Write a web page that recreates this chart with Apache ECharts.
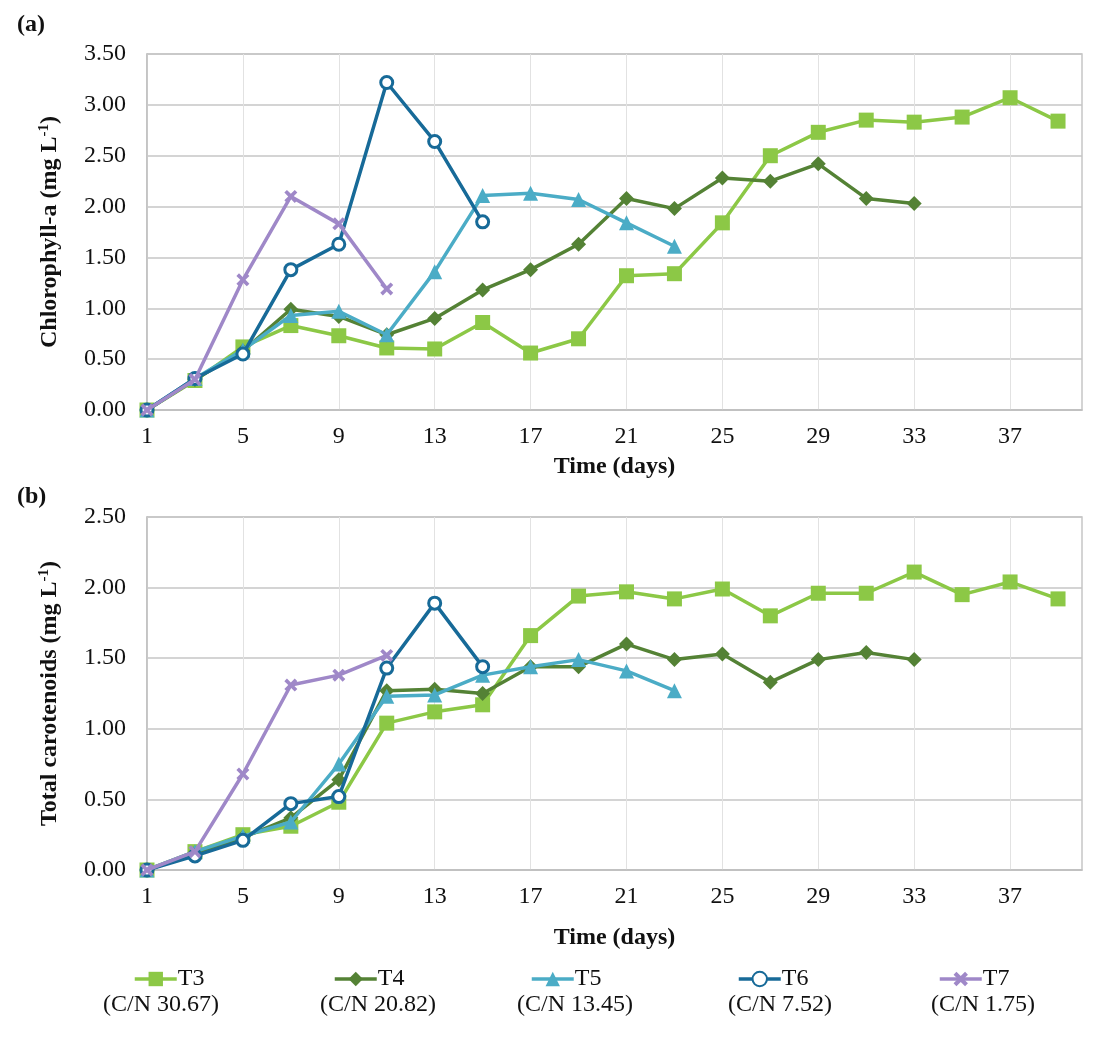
<!DOCTYPE html>
<html>
<head>
<meta charset="utf-8">
<script src="https://cdn.jsdelivr.net/npm/echarts@6/dist/echarts.min.js"></script>
<style>
  html, body { margin: 0; padding: 0; background: #fff; }
  #chart { width: 1118px; height: 1052px; }
</style>
</head>
<body>
<div id="chart"></div>
<script>
// sampling days (every other day)
var days = [1, 3, 5, 7, 9, 11, 13, 15, 17, 19, 21, 23, 25, 27, 29, 31, 33, 35, 37, 39];
// axis categories 1..40, labelled every 4th day
var dayTicks = [];
for (var d = 1; d <= 40; d++) dayTicks.push(String(d));

var names = ['T3', 'T4', 'T5', 'T6', 'T7'];
var cnRatios = ['(C/N 30.67)', '(C/N 20.82)', '(C/N 13.45)', '(C/N 7.52)', '(C/N 1.75)'];
var colors = ['#8cc846', '#548235', '#4bacc6', '#176a98', '#9f88c8'];

// (a) chlorophyll-a, mg/L
var chlT3 = [0, 0.29, 0.62, 0.83, 0.73, 0.61, 0.60, 0.86, 0.56, 0.70, 1.32, 1.34, 1.84, 2.50, 2.73, 2.85, 2.83, 2.88, 3.07, 2.84];
var chlT4 = [0, 0.30, 0.58, 0.99, 0.92, 0.74, 0.90, 1.18, 1.38, 1.63, 2.08, 1.98, 2.28, 2.25, 2.42, 2.08, 2.03];
var chlT5 = [0, 0.31, 0.59, 0.93, 0.97, 0.74, 1.36, 2.11, 2.13, 2.07, 1.84, 1.61];
var chlT6 = [0, 0.31, 0.55, 1.38, 1.63, 3.22, 2.64, 1.85];
var chlT7 = [0, 0.30, 1.28, 2.10, 1.83, 1.19];

// (b) total carotenoids, mg/L
var carT3 = [0, 0.13, 0.25, 0.31, 0.48, 1.04, 1.12, 1.17, 1.66, 1.94, 1.97, 1.92, 1.99, 1.80, 1.96, 1.96, 2.11, 1.95, 2.04, 1.92];
var carT4 = [0, 0.12, 0.23, 0.37, 0.64, 1.27, 1.28, 1.25, 1.44, 1.44, 1.60, 1.49, 1.53, 1.33, 1.49, 1.54, 1.49];
var carT5 = [0, 0.13, 0.24, 0.34, 0.75, 1.23, 1.24, 1.38, 1.44, 1.49, 1.41, 1.27];
var carT6 = [0, 0.10, 0.21, 0.47, 0.52, 1.43, 1.89, 1.44];
var carT7 = [0, 0.13, 0.68, 1.31, 1.38, 1.52];

var chlData = [chlT3, chlT4, chlT5, chlT6, chlT7];
var carData = [carT3, carT4, carT5, carT6, carT7];

var serif = 'Liberation Serif, Times New Roman, serif';
var fs = 24;
var crossPath = 'path://M2,0 L5,3 L8,0 L10,2 L7,5 L10,8 L8,10 L5,7 L2,10 L0,8 L3,5 L0,2 Z';
var symbols = ['rect', 'diamond', 'triangle', 'circle', crossPath];
var symbolSizes = [15, 15, 15, 12, 13];
var legendLefts = [133, 333, 530, 737, 938];
var cnCenters = [161, 378, 575, 780, 983];

function toPairs(vals) {
    return vals.map(function (v, i) { return [String(days[i]), v]; });
}

function makeSeries(vals, i, gridIdx) {
    var s = {
        name: names[i],
        type: 'line',
        xAxisIndex: gridIdx,
        yAxisIndex: gridIdx,
        data: toPairs(vals),
        symbol: symbols[i],
        symbolSize: symbolSizes[i],
        color: colors[i],
        lineStyle: { width: 3.5, color: colors[i] },
        itemStyle: { color: colors[i] },
        emphasis: { disabled: true },
        z: 2 + i
    };
    if (i === 3) {
        s.itemStyle = { color: '#fff', borderColor: colors[i], borderWidth: 3 };
    }
    return s;
}

function xAxisCfg(gridIdx, nameGap) {
    return {
        type: 'category',
        gridIndex: gridIdx,
        data: dayTicks,
        boundaryGap: false,
        name: 'Time (days)',
        nameLocation: 'middle',
        nameGap: nameGap,
        nameTextStyle: { fontFamily: serif, fontSize: fs, fontWeight: 'bold', color: '#111' },
        axisLine: { lineStyle: { color: '#bfbfbf', width: 1.5 } },
        axisTick: { show: false },
        axisLabel: { interval: 3, margin: 15, fontFamily: serif, fontSize: fs, color: '#111' },
        splitLine: { show: true, interval: 3, lineStyle: { color: '#e2e2e2', width: 1 } }
    };
}

function yAxisCfg(gridIdx, name, max) {
    return {
        type: 'value',
        gridIndex: gridIdx,
        min: 0,
        max: max,
        interval: 0.5,
        name: name,
        nameLocation: 'middle',
        nameGap: 84,
        nameTextStyle: {
            fontFamily: serif, fontSize: fs, fontWeight: 'bold', color: '#111',
            rich: {
                sup: { fontFamily: serif, fontSize: 15, fontWeight: 'bold', color: '#111', verticalAlign: 'bottom', padding: [0, 0, 11, 0] }
            }
        },
        axisLine: { show: true, lineStyle: { color: '#bfbfbf', width: 1.5 } },
        axisTick: { show: false },
        axisLabel: {
            margin: 21, fontFamily: serif, fontSize: fs, color: '#111',
            formatter: function (v) { return v.toFixed(2); }
        },
        splitLine: { lineStyle: { color: '#c6c6c6', width: 1.5 } }
    };
}

var series = [];
chlData.forEach(function (vals, i) { series.push(makeSeries(vals, i, 0)); });
carData.forEach(function (vals, i) { series.push(makeSeries(vals, i, 1)); });

var legends = names.map(function (n, i) {
    return {
        data: [n],
        left: legendLefts[i],
        top: 967,
        padding: 0,
        itemWidth: 42,
        itemHeight: 18,
        itemGap: 2,
        selectedMode: false,
        lineStyle: { width: 3.5 },
        textStyle: { fontFamily: serif, fontSize: fs, color: '#111', padding: [0, 0, 0, -4] }
    };
});

var graphics = [
    { type: 'text', left: 17, top: 13, style: { text: '(a)', font: 'bold ' + fs + 'px ' + serif, fill: '#111' } },
    { type: 'text', left: 17, top: 485, style: { text: '(b)', font: 'bold ' + fs + 'px ' + serif, fill: '#111' } }
];
cnRatios.forEach(function (t, i) {
    graphics.push({
        type: 'text',
        x: cnCenters[i],
        y: 1005,
        style: { text: t, font: fs + 'px ' + serif, fill: '#111', textAlign: 'center', textVerticalAlign: 'middle' }
    });
});

var option = {
    backgroundColor: '#fff',
    animation: false,
    grid: [
        { left: 147, top: 54, width: 935, height: 356, show: true, borderColor: '#c6c6c6', borderWidth: 1.5 },
        { left: 147, top: 517, width: 935, height: 353, show: true, borderColor: '#c6c6c6', borderWidth: 1.5 }
    ],
    xAxis: [xAxisCfg(0, 45), xAxisCfg(1, 56)],
    yAxis: [
        yAxisCfg(0, 'Chlorophyll-a (mg L{sup|-1})', 3.5),
        yAxisCfg(1, 'Total carotenoids (mg L{sup|-1})', 2.5)
    ],
    legend: legends,
    graphic: graphics,
    series: series
};

var myChart = echarts.init(document.getElementById('chart'));
myChart.setOption(option);
</script>
</body>
</html>
